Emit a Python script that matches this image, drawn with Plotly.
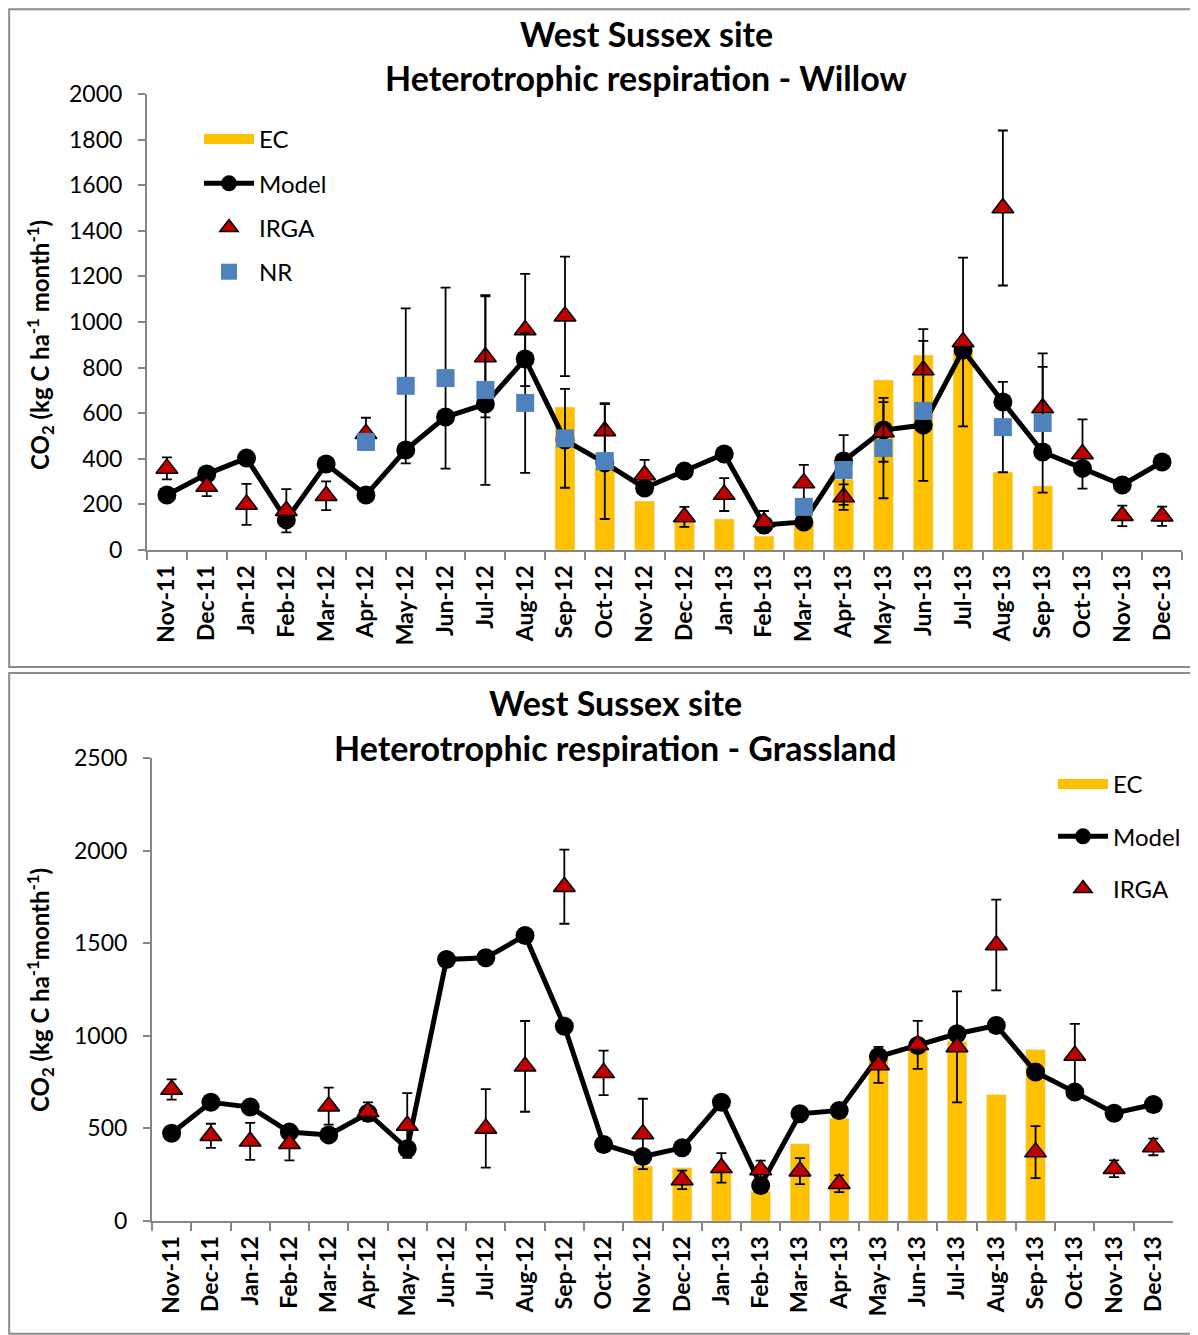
import plotly.graph_objects as go

months = ["Nov-11", "Dec-11", "Jan-12", "Feb-12", "Mar-12", "Apr-12", "May-12", "Jun-12",
          "Jul-12", "Aug-12", "Sep-12", "Oct-12", "Nov-12", "Dec-12", "Jan-13", "Feb-13",
          "Mar-13", "Apr-13", "May-13", "Jun-13", "Jul-13", "Aug-13", "Sep-13", "Oct-13",
          "Nov-13", "Dec-13"]

# Willow
w_ec = [None, None, None, None, None, None, None, None, None, None,
        627, 360, 215, 120, 136, 61, 125, 310, 746, 855, 875, 342, 281, None, None, None]
w_model = [241, 333, 403, 132, 377, 241, 439, 583, 640, 838, 482, 382, 272, 346, 421, 110,
           123, 390, 526, 548, 877, 649, 430, 358, 285, 386]
w_irga = [358, 278, 200, 172, 238, 510, None, None, 847, 965, 1025, 522, 329, 145, 243, 123,
          294, 232, 518, 789, 912, 1500, 623, 421, 150, 148]
w_irga_err = [48, 42, 90, 95, 63, 70, None, None, 265, 246, 262, 118, 66, 44, 72, 48,
              79, 56, 131, 180, 370, 340, 180, 152, 45, 42]
w_nr = [None, None, None, None, None, 474, 720, 754, 702, 645, 490, 390, None, None, None, None,
        189, 351, 447, 610, None, 539, 557, None, None, None]
w_nr_err = [None, None, None, None, None, None, 340, 397, 416, 307, 217, 254, None, None, None, None,
            None, 153, 220, 307, None, 198, 305, None, None, None]

# Grassland
g_ec = [None, None, None, None, None, None, None, None, None, None, None, None,
        297, 287, 269, 161, 417, 555, 880, 930, 970, 683, 926, None, None, None]
g_model = [474, 641, 615, 480, 465, 582, 390, 1412, 1421, 1542, 1052, 413, 348, 395, 641, 192,
           579, 597, 888, 948, 1011, 1056, 804, 696, 582, 629]
g_irga = [710, 460, 430, 417, 620, 590, 516, None, 500, 835, 1805, 800, 470, 222, 287, 276,
          269, 201, 843, 951, 940, 1490, 372, 894, 282, 400]
g_irga_err = [55, 65, 100, 90, 100, 50, 175, None, 212, 245, 200, 120, 190, 50, 80, 50,
              70, 45, 97, 130, 300, 245, 140, 170, 45, 45]

EC_COLOR = "#FFC000"
IRGA_COLOR = "#C00000"
NR_COLOR = "#4F81BD"
AXIS_COLOR = "#868686"
FONT = "Lato"

OFF = 8                 # page body margin
W, H = 1198 - OFF, 1335 - OFF


def px_x(p):
    return (p - OFF) / W


def px_y(p):
    return 1 - (p - OFF) / H


def err(a):
    return [e if e is not None else 0 for e in a]


fig = go.Figure()


def add_panel(xa, ya, leg, ec, model, irga, irga_err, nr=None, nr_err=None):
    # EC bars (legend shown through a wide swatch entry below)
    fig.add_trace(go.Bar(x=months, y=ec, name="EC", marker_color=EC_COLOR, width=0.5,
                         xaxis=xa, yaxis=ya, legend=leg, legendgroup=leg + "ec",
                         showlegend=False))
    fig.add_trace(go.Scatter(x=[None], y=[None], name="EC", mode="lines",
                             line=dict(color=EC_COLOR, width=16),
                             xaxis=xa, yaxis=ya, legend=leg, legendgroup=leg + "ec",
                             hoverinfo="skip"))
    fig.add_trace(go.Scatter(x=months, y=model, name="Model", mode="lines+markers",
                             line=dict(color="black", width=5),
                             marker=dict(symbol="circle", size=19, color="black"),
                             xaxis=xa, yaxis=ya, legend=leg, legendgroup=leg + "model"))
    fig.add_trace(go.Scatter(x=months, y=irga, name="IRGA", mode="markers",
                             marker=dict(symbol="triangle-up", size=19, color=IRGA_COLOR,
                                         line=dict(color="black", width=1.5)),
                             error_y=dict(type="data", array=err(irga_err), color="black",
                                          thickness=1.8, width=5),
                             xaxis=xa, yaxis=ya, legend=leg, legendgroup=leg + "irga"))
    if nr is not None:
        fig.add_trace(go.Scatter(x=months, y=nr, name="NR", mode="markers",
                                 marker=dict(symbol="square", size=18, color=NR_COLOR),
                                 error_y=dict(type="data", array=err(nr_err), color="black",
                                              thickness=1.8, width=5),
                                 xaxis=xa, yaxis=ya, legend=leg, legendgroup=leg + "nr"))


add_panel("x", "y", "legend", w_ec, w_model, w_irga, w_irga_err, w_nr, w_nr_err)
add_panel("x2", "y2", "legend2", g_ec, g_model, g_irga, g_irga_err)

xcommon = dict(type="category", tickson="boundaries", ticks="outside", ticklen=8,
               tickwidth=1.5, tickcolor=AXIS_COLOR, showline=True, linecolor=AXIS_COLOR,
               linewidth=2, showgrid=False, zeroline=False, tickangle=-90, automargin=False,
               tickfont=dict(family=FONT, size=23, color="black", weight="bold"),
               range=[-0.5, 25.5], ticklabelstandoff=4)
ycommon = dict(ticks="outside", ticklen=7, tickwidth=1.5, tickcolor=AXIS_COLOR, showline=True,
               linecolor=AXIS_COLOR, linewidth=2, showgrid=False, zeroline=False, automargin=False,
               tickfont=dict(family=FONT, size=23, color="black"), ticklabelstandoff=11)

fig.update_layout(
    width=W, height=H, margin=dict(l=0, r=0, t=0, b=0, pad=0, autoexpand=False),
    paper_bgcolor="white", plot_bgcolor="white",
    font=dict(family=FONT, color="black"),
    xaxis=dict(domain=[px_x(147), px_x(1182)], anchor="y", **xcommon),
    yaxis=dict(domain=[px_y(550), px_y(94)], anchor="x", range=[0, 2000], dtick=200, **ycommon),
    xaxis2=dict(domain=[px_x(152), px_x(1173)], anchor="y2", **xcommon),
    yaxis2=dict(domain=[px_y(1221), px_y(758)], anchor="x2", range=[0, 2500], dtick=500, **ycommon),
    legend=dict(x=px_x(199), y=px_y(117), xanchor="left", yanchor="top",
                bgcolor="rgba(0,0,0,0)", font=dict(family=FONT, size=24, color="black"),
                tracegroupgap=10, itemwidth=50),
    legend2=dict(x=px_x(1053), y=px_y(762), xanchor="left", yanchor="top",
                 bgcolor="rgba(0,0,0,0)", font=dict(family=FONT, size=24, color="black"),
                 tracegroupgap=18, itemwidth=50),
    showlegend=True,
)

title_font = dict(family=FONT, size=34, color="black", weight="bold")
annos = [
    dict(text="West Sussex site", x=px_x(646), y=px_y(33)),
    dict(text="Heterotrophic respiration - Willow", x=px_x(646), y=px_y(78)),
    dict(text="West Sussex site", x=px_x(615), y=px_y(702)),
    dict(text="Heterotrophic respiration - Grassland", x=px_x(615), y=px_y(747)),
]
for a in annos:
    fig.add_annotation(xref="paper", yref="paper", xanchor="center", yanchor="middle",
                       showarrow=False, font=title_font, **a)

ytitle_font = dict(family=FONT, size=24, color="black", weight="bold")
fig.add_annotation(text="CO<sub>2</sub> (kg C ha<sup>-1</sup> month<sup>-1</sup>)",
                   xref="paper", yref="paper", x=px_x(40), y=px_y(345), textangle=-90,
                   showarrow=False, xanchor="center", yanchor="middle", font=ytitle_font)
fig.add_annotation(text="CO<sub>2</sub> (kg C ha<sup>-1</sup>month<sup>-1</sup>)",
                   xref="paper", yref="paper", x=px_x(40), y=px_y(990), textangle=-90,
                   showarrow=False, xanchor="center", yanchor="middle", font=ytitle_font)

# panel borders
fig.add_shape(type="rect", xref="paper", yref="paper", x0=0.001, x1=1.01,
              y0=px_y(667), y1=0.999, line=dict(color="#8C8C8C", width=2), layer="below")
fig.add_shape(type="rect", xref="paper", yref="paper", x0=0.001, x1=1.01,
              y0=0.001, y1=px_y(673), line=dict(color="#8C8C8C", width=2), layer="below")

fig.write_html("out.html")
